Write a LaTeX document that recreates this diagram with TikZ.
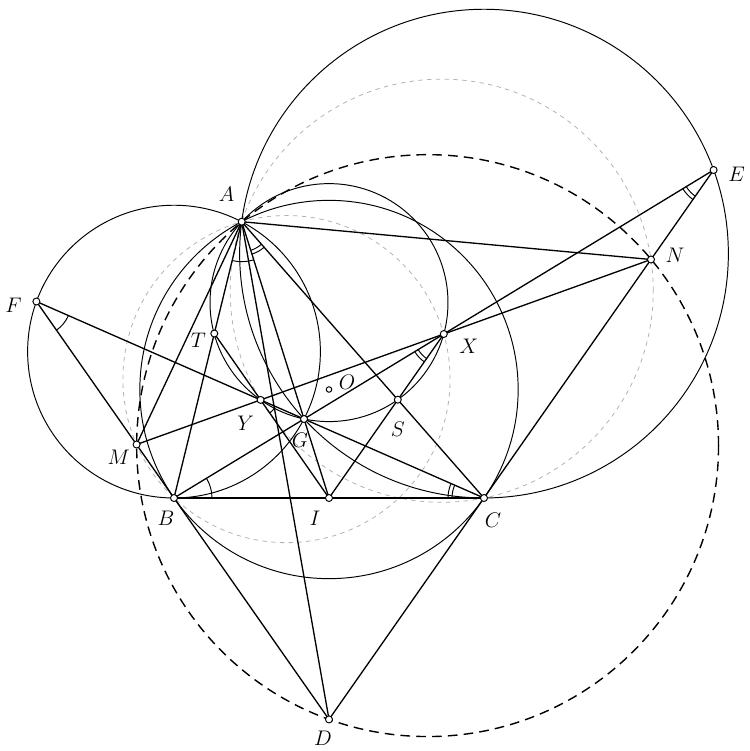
\documentclass[tikz,border=0pt]{standalone}
\usetikzlibrary{angles,calc}
\tikzset{
  ln/.style={line width=0.75pt},
  crc/.style={line width=0.55pt},
  dsh/.style={line width=0.8pt, dash pattern=on 5.5pt off 3.5pt},
  gry/.style={line width=0.45pt, gray!60, dash pattern=on 2.5pt off 2.5pt},
  pt/.style={circle, draw, fill=white, inner sep=0pt, minimum size=0.14cm, line width=0.55pt},
  ptO/.style={circle, draw, fill=white, inner sep=0pt, minimum size=0.11cm, line width=0.55pt},
  lab/.style={font=\large, inner sep=0pt},
  mk/.style={draw, line width=0.55pt}
}
\begin{document}
\begin{tikzpicture}[x=0.02cm,y=-0.02cm]
\useasboundingbox (0,0) rectangle (750,751);
% points
\coordinate (A) at (241.7,221.7);
\coordinate (B) at (174,498);
\coordinate (C) at (484,498);
\coordinate (I) at (329,498);
\coordinate (O) at (329,389.5);
\coordinate (D) at (329,719.4);
\coordinate (F) at (36.4,301.5);
\coordinate (E) at (713.6,170.0);
\coordinate (G) at (304.0,419.0);
\coordinate (X) at (443.8,334.0);
\coordinate (Y) at (260.6,399.9);
\coordinate (M) at (136.6,444.5);
\coordinate (N) at (651.0,259.5);
\coordinate (T) at (214.3,333.5);
\coordinate (S) at (397.8,399.7);
% circle centres
\coordinate (K) at (329,302.6);
\coordinate (Wb) at (174,351.6);
\coordinate (Wc) at (484,253.6);
\coordinate (Qd) at (427.6,445.6);
\coordinate (Q1) at (286.5,379.1);
\coordinate (Q2) at (441.7,290.7);
% circles
\draw[gry] (Q1) circle[radius=3.272cm];
\draw[gry] (Q2) circle[radius=4.232cm];
\draw[dsh] (Qd) circle[radius=5.820cm];
\draw[crc] (O) circle[radius=3.784cm];
\draw[crc] (K) circle[radius=2.380cm];
\draw[crc] (Wb) circle[radius=2.928cm];
\draw[crc] (Wc) circle[radius=4.888cm];
% lines
\draw[ln] (F) -- (D);
\draw[ln] (E) -- (D);
\draw[ln] (F) -- (C);
\draw[ln] (E) -- (B);
\draw[ln] (M) -- (N);
\draw[ln] (A) -- (B);
\draw[ln] (A) -- (C);
\draw[ln] (B) -- (C);
\draw[ln] (A) -- (I);
\draw[ln] (A) -- (D);
\draw[ln] (A) -- (M);
\draw[ln] (A) -- (N);
\draw[ln] (T) -- (I);
\draw[ln] (X) -- (I);
% angle marks
\pic[mk, angle radius=0.70cm] {angle=B--F--C};
\pic[mk, angle radius=0.64cm] {angle=B--E--C};
\pic[mk, angle radius=0.72cm] {angle=B--E--C};
\pic[mk, angle radius=0.76cm] {angle=C--B--G};
\pic[mk, angle radius=0.64cm] {angle=G--C--B};
\pic[mk, angle radius=0.72cm] {angle=G--C--B};
\pic[mk, angle radius=0.60cm] {angle=G--X--S};
\pic[mk, angle radius=0.68cm] {angle=G--X--S};
\pic[mk, angle radius=0.32cm] {angle=I--Y--G};
\pic[mk, angle radius=0.80cm] {angle=B--A--G};
\pic[mk, angle radius=0.60cm] {angle=G--A--C};
\pic[mk, angle radius=0.68cm] {angle=G--A--C};
% point markers
\foreach \p in {A,B,C,I,D,F,E,G,X,Y,M,N,T,S} {\node[pt] (m\p) at (\p) {};}
\node[ptO] (mO) at (O) {};
% labels
\node[lab] (lA) at ($(A)+(-15,-27)$) {$A$};
\node[lab] (lF) at ($(F)+(-23,4)$) {$F$};
\node[lab] (lT) at ($(T)+(-16,7)$) {$T$};
\node[lab] (lM) at ($(M)+(-18,13)$) {$M$};
\node[lab] (lB) at ($(B)+(-8,20)$) {$B$};
\node[lab] (lY) at ($(Y)+(-15,23)$) {$Y$};
\node[lab] (lG) at ($(G)+(-4,21)$) {$G$};
\node[lab] (lS) at ($(S)+(0,30)$) {$S$};
\node[lab] (lI) at ($(I)+(-14,20)$) {$I$};
\node[lab] (lC) at ($(C)+(9,22)$) {$C$};
\node[lab] (lX) at ($(X)+(25,12)$) {$X$};
\node[lab] (lN) at ($(N)+(24,-4)$) {$N$};
\node[lab] (lE) at ($(E)+(23,4)$) {$E$};
\node[lab] (lD) at ($(D)+(-6,19)$) {$D$};
\node[lab] (lO) at ($(O)+(18,-7)$) {$O$};
\end{tikzpicture}
\end{document}
